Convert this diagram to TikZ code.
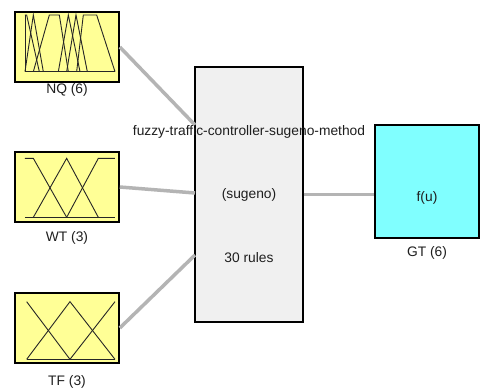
\documentclass[tikz,border=0pt]{standalone}
\usepackage{fontspec}
\setmainfont{Liberation Sans}
\usetikzlibrary{calc}
\definecolor{mfyellow}{RGB}{255,255,150}
\definecolor{ctrgray}{RGB}{240,240,240}
\definecolor{outcyan}{RGB}{128,255,255}
\definecolor{wire}{RGB}{180,180,180}
\definecolor{txt}{RGB}{30,30,30}
\begin{document}
\begin{tikzpicture}[x=1pt,y=-1pt,
  inbox/.style={draw=black,line width=1.6pt,fill=mfyellow,minimum width=104pt,minimum height=70pt,inner sep=0pt},
  ctrbox/.style={draw=black,line width=1.4pt,fill=ctrgray,minimum width=108pt,minimum height=255pt,inner sep=0pt},
  outbox/.style={draw=black,line width=1.6pt,fill=outcyan,minimum width=104pt,minimum height=113pt,inner sep=0pt},
  lbl/.style={text=txt,font=\fontsize{13.8}{15}\selectfont,inner sep=0pt},
  wireline/.style={draw=wire,line width=3.5pt},
  mf/.style={draw=black!85,line width=0.9pt,line join=miter}
]
\useasboundingbox (0,0) rectangle (481,390);
\fill[white] (0,0) rectangle (481,390);

\node[ctrbox] (ctr) at (249,194.5) {};
\node[inbox] (nq) at (67,47) {};
\node[inbox] (wt) at (67,187) {};
\node[inbox] (tf) at (67,328) {};
\node[outbox] (gt) at (427,181.5) {};

\coordinate (inA) at (195,125);
\coordinate (inB) at (195,193);
\coordinate (inC) at (195,255);
\draw[wireline] (nq.east) -- (inA);
\draw[wireline] (wt.east) -- (inB);
\draw[wireline] (tf.east) -- (inC);
\draw[wireline] (ctr.east) -- (ctr.east -| gt.west);

% membership function icons
\begin{scope}[x=0.3333pt,y=-0.3333pt]
  \draw[mf] (75,45)--(75,215)--(345,215);
  \draw[mf] (75,45)--(80,45)--(118,215);
  \draw[mf] (75,215)--(100,45)--(130,215);
  \draw[mf] (100,215)--(148,45)--(178,45)--(205,215);
  \draw[mf] (175,215)--(205,45)--(240,215);
  \draw[mf] (200,215)--(228,45)--(262,215);
  \draw[mf] (230,215)--(250,45)--(290,45)--(345,215);
\end{scope}
\begin{scope}[shift={(0,130)},x=0.3333pt,y=-0.3333pt]
  \draw[mf] (75,262)--(345,262);
  \draw[mf] (75,85)--(100,85)--(200,262);
  \draw[mf] (100,262)--(200,85)--(295,262);
  \draw[mf] (200,262)--(295,85)--(345,85);
\end{scope}
\begin{scope}[shift={(0,270)},x=0.3333pt,y=-0.3333pt]
  \draw[mf] (80,268)--(345,268);
  \draw[mf] (80,95)--(210,268);
  \draw[mf] (80,268)--(210,95)--(345,268);
  \draw[mf] (210,268)--(345,95);
\end{scope}

% labels
\node[lbl] (nql) at (67,90) {NQ (6)};
\node[lbl] (wtl) at (67,238) {WT (3)};
\node[lbl] (tfl) at (67,382) {TF (3)};
\node[lbl] (name) at (249,132) {fuzzy-traffic-controller-sugeno-method};
\node[lbl] (type) at (249,195) {(sugeno)};
\node[lbl] (rules) at (249,258) {30 rules};
\node[lbl] (fu) at (427,198) {f(u)};
\node[lbl] (gtl) at (427,253) {GT (6)};
\end{tikzpicture}
\end{document}
